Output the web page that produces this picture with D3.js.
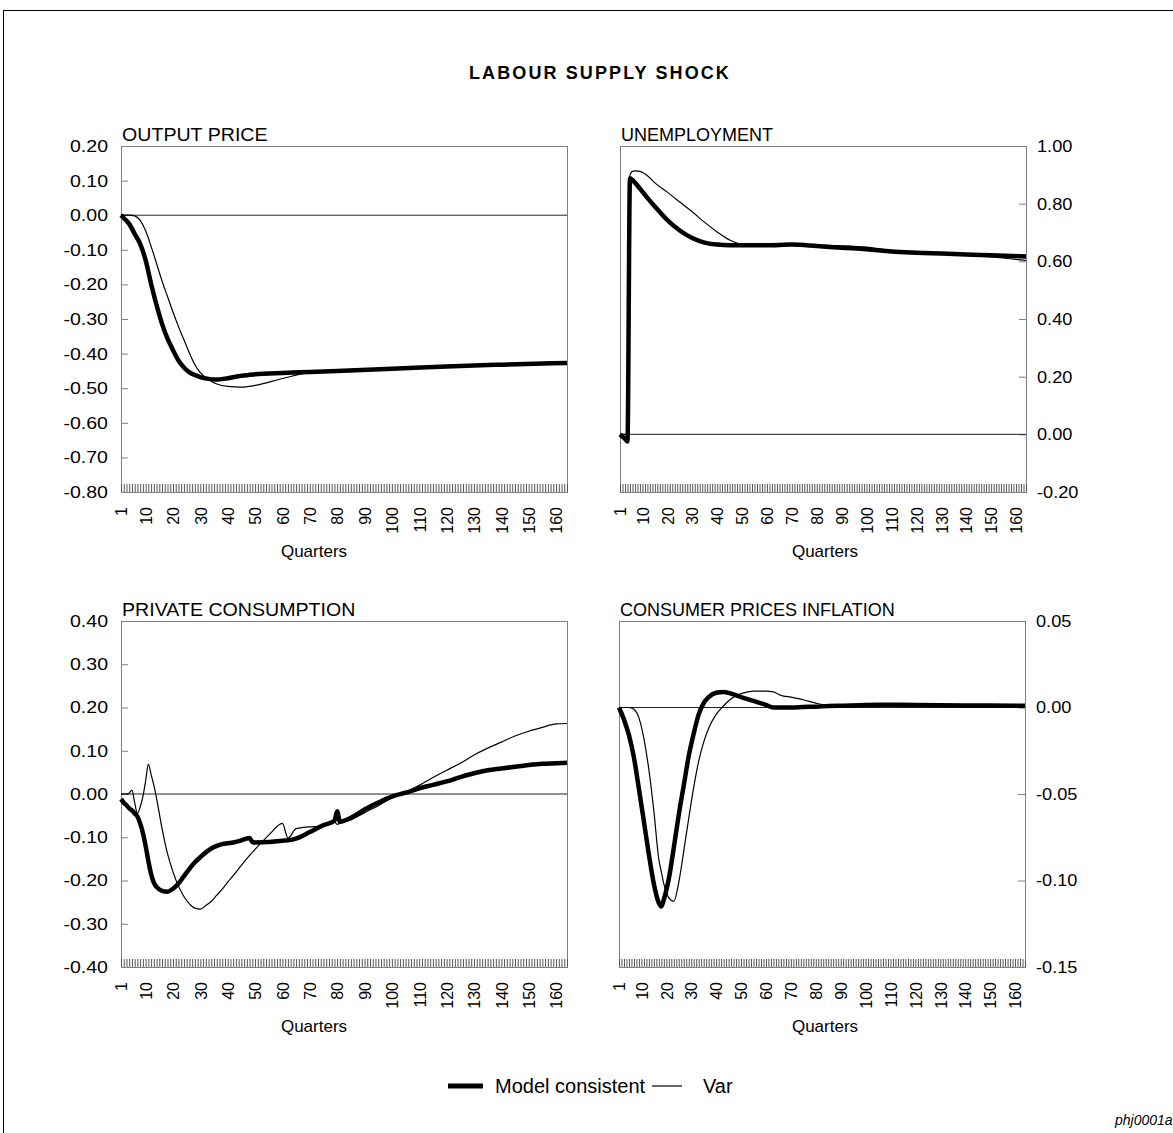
<!DOCTYPE html>
<html>
<head>
<meta charset="utf-8">
<script src="https://cdn.jsdelivr.net/npm/d3@7"></script>
<style>
  body { margin: 0; background: #fff; }
  svg { display: block; font-family: "Liberation Sans", Arial, sans-serif; }
</style>
</head>
<body>
<svg width="1173" height="1133"></svg>
<script>
// ---- data ----
const xLabels = [1, 10, 20, 30, 40, 50, 60, 70, 80, 90, 100, 110, 120, 130, 140, 150, 160];

// Output price
const priceQ = [1, 2, 4, 6, 8, 10, 12, 14, 16, 18, 20, 22, 24, 26, 28, 30, 33, 36, 40, 45, 50, 60, 70, 80, 100, 120, 140, 164];
const priceModel = [0, -0.008, -0.025, -0.054, -0.083, -0.13, -0.198, -0.26, -0.314, -0.357, -0.39, -0.42, -0.44, -0.454, -0.462, -0.468, -0.473, -0.475, -0.471, -0.464, -0.46, -0.456, -0.453, -0.45, -0.444, -0.437, -0.432, -0.427];
const priceVar = [0, 0, 0, -0.002, -0.015, -0.045, -0.09, -0.14, -0.19, -0.235, -0.28, -0.322, -0.36, -0.398, -0.432, -0.455, -0.475, -0.488, -0.495, -0.497, -0.492, -0.472, -0.455, -0.451, -0.444, -0.437, -0.432, -0.427];

// Unemployment
const unempQ = [1, 2, 3, 4, 5, 6, 7, 9, 12, 15, 20, 25, 30, 35, 40, 45, 50, 60, 70, 80, 90, 100, 110, 120, 130, 140, 150, 164];
const unempModel = [0, -0.008, -0.016, -0.025, 0.888, 0.882, 0.873, 0.852, 0.82, 0.79, 0.743, 0.707, 0.681, 0.665, 0.658, 0.656, 0.656, 0.656, 0.658, 0.653, 0.647, 0.642, 0.634, 0.63, 0.627, 0.624, 0.621, 0.617];
const unempVar = [0, 0, 0, 0, 0.9, 0.912, 0.914, 0.912, 0.897, 0.872, 0.84, 0.806, 0.772, 0.735, 0.702, 0.674, 0.659, 0.657, 0.659, 0.656, 0.654, 0.649, 0.637, 0.632, 0.627, 0.622, 0.615, 0.603];

// Private consumption
const consQ = [1, 2, 3, 4, 5, 6, 7, 8, 9, 10, 11, 12, 13, 14, 16, 18, 20, 22, 24, 26, 28, 30, 32, 34, 36, 38, 40, 42, 44, 46, 48, 49, 50, 55, 60, 62, 65, 70, 75, 79, 80, 81, 85, 90, 95, 100, 105, 110, 115, 120, 125, 130, 135, 140, 145, 150, 155, 160, 164];
const consModel = [-0.012, -0.02, -0.026, -0.033, -0.038, -0.045, -0.052, -0.068, -0.09, -0.12, -0.155, -0.185, -0.205, -0.215, -0.224, -0.226, -0.219, -0.207, -0.19, -0.173, -0.158, -0.146, -0.135, -0.126, -0.12, -0.116, -0.114, -0.112, -0.109, -0.105, -0.102, -0.111, -0.112, -0.111, -0.108, -0.107, -0.103, -0.088, -0.072, -0.062, -0.04, -0.064, -0.055, -0.036, -0.02, -0.006, 0.003, 0.013, 0.021, 0.029, 0.039, 0.048, 0.055, 0.059, 0.063, 0.067, 0.07, 0.071, 0.072];
const consVar = [0, 0, 0, 0.002, 0.009, -0.02, -0.045, -0.03, -0.006, 0.03, 0.069, 0.045, 0.02, -0.01, -0.08, -0.138, -0.18, -0.213, -0.237, -0.254, -0.264, -0.266, -0.258, -0.248, -0.234, -0.22, -0.204, -0.189, -0.173, -0.157, -0.142, -0.135, -0.128, -0.095, -0.068, -0.102, -0.08, -0.076, -0.075, -0.065, -0.07, -0.068, -0.06, -0.043, -0.027, -0.009, 0.004, 0.02, 0.038, 0.055, 0.071, 0.09, 0.106, 0.12, 0.134, 0.145, 0.154, 0.162, 0.163];

// Consumer prices inflation
const inflQ = [1, 3, 5, 7, 9, 11, 13, 15, 17, 18, 19, 21, 23, 25, 27, 29, 31, 33, 35, 37, 40, 43, 46, 50, 55, 60, 63, 66, 70, 75, 80, 85, 90, 100, 110, 120, 140, 164];
const inflModel = [0, -0.007, -0.016, -0.029, -0.047, -0.066, -0.085, -0.102, -0.113, -0.115, -0.111, -0.099, -0.081, -0.062, -0.045, -0.028, -0.015, -0.004, 0.0025, 0.006, 0.0085, 0.009, 0.008, 0.006, 0.0038, 0.0015, 0, 0, 0, 0.0003, 0.0005, 0.0008, 0.001, 0.0015, 0.0016, 0.0015, 0.0012, 0.001];
const inflVar = [0, 0, 0, -0.001, -0.006, -0.018, -0.036, -0.06, -0.088, -0.095, -0.102, -0.11, -0.112, -0.101, -0.083, -0.064, -0.046, -0.031, -0.02, -0.012, -0.004, 0.001, 0.005, 0.008, 0.0095, 0.0095, 0.009, 0.007, 0.006, 0.0045, 0.0025, 0.0012, 0.001, 0.0015, 0.0016, 0.0015, 0.0012, 0.001];

const seriesNames = ["Model consistent", "Var"];

// ---- layout ----
const svg = d3.select("svg");
const fmt = d3.formatLocale({ decimal: ".", thousands: ",", grouping: [3], currency: ["", ""], minus: "-" }).format(".2f");

svg.append("rect")
    .attr("x", 3.5).attr("y", 10.5)
    .attr("width", 1200).attr("height", 1200)
    .attr("fill", "none").attr("stroke", "#000");

svg.append("text")
    .attr("x", 600).attr("y", 79)
    .attr("text-anchor", "middle")
    .attr("font-size", 18).attr("font-weight", "bold")
    .attr("letter-spacing", 2.1)
    .text("LABOUR SUPPLY SHOCK");

const panels = [
    { title: "OUTPUT PRICE", left: 121, right: 567, top: 146, bottom: 492, side: "left",
      yDomain: [-0.8, 0.2], yTicks: d3.range(-8, 3).map(d => d / 10), qx: 314,
      q: priceQ, model: priceModel, alt: priceVar },
    { title: "UNEMPLOYMENT", left: 620, right: 1026, top: 146, bottom: 492, side: "right",
      yDomain: [-0.2, 1.0], yTicks: d3.range(-1, 6).map(d => d / 5), qx: 825,
      q: unempQ, model: unempModel, alt: unempVar },
    { title: "PRIVATE CONSUMPTION", left: 121, right: 567, top: 621, bottom: 967, side: "left",
      yDomain: [-0.4, 0.4], yTicks: d3.range(-4, 5).map(d => d / 10), qx: 314,
      q: consQ, model: consModel, alt: consVar },
    { title: "CONSUMER PRICES INFLATION", left: 619, right: 1025, top: 621, bottom: 967, side: "right",
      yDomain: [-0.15, 0.05], yTicks: d3.range(-3, 2).map(d => d / 20), qx: 825,
      q: inflQ, model: inflModel, alt: inflVar }
];

function drawPanel(p) {
    const x = d3.scaleLinear().domain([1, 164]).range([p.left, p.right]);
    const y = d3.scaleLinear().domain(p.yDomain).range([p.bottom, p.top]);
    const g = svg.append("g");
    const isLeft = p.side === "left";

    // frame
    g.append("rect")
        .attr("x", p.left + 0.5).attr("y", p.top + 0.5)
        .attr("width", p.right - p.left).attr("height", p.bottom - p.top)
        .attr("fill", "none").attr("stroke", "#808080");

    // one small tick per quarter, pointing into the plot
    g.append("g")
        .attr("transform", `translate(0,${p.bottom})`)
        .call(d3.axisBottom(x).tickValues(d3.range(1, 165)).tickSizeInner(-8).tickSizeOuter(0).tickFormat(""))
        .call(s => s.select(".domain").remove())
        .selectAll("line").attr("stroke", "#555");

    // rotated quarter labels
    const xa = g.append("g")
        .attr("transform", `translate(0,${p.bottom})`)
        .call(d3.axisBottom(x).tickValues(xLabels).tickSize(0).tickFormat(d => d));
    xa.select(".domain").remove();
    xa.attr("font-size", 16).attr("font-family", null);
    xa.selectAll("text")
        .attr("x", null).attr("y", null)
        .attr("dy", "0.36em")
        .attr("text-anchor", "end")
        .attr("transform", "translate(0,15) rotate(-90)");

    // value axis, ticks inside the frame
    const yAxis = (isLeft ? d3.axisLeft(y) : d3.axisRight(y))
        .tickValues(p.yTicks).tickSizeInner(-7).tickSizeOuter(0).tickFormat(fmt);
    const ya = g.append("g")
        .attr("transform", `translate(${isLeft ? p.left : p.right},0)`)
        .call(yAxis);
    ya.select(".domain").remove();
    ya.attr("font-size", 17).attr("font-family", null);
    ya.selectAll("line").attr("stroke", "#808080");
    ya.selectAll("text")
        .attr("x", null)
        .attr("transform", isLeft ? "translate(-13,0) scale(1.15,1)" : "translate(11,0) scale(1.07,1)");

    // zero line
    g.append("line")
        .attr("x1", p.left).attr("x2", p.right)
        .attr("y1", y(0)).attr("y2", y(0))
        .attr("stroke", "#222").attr("stroke-width", 1);

    // series
    const line = d3.line()
        .x(d => x(d[0]))
        .y(d => y(d[1]))
        .curve(d3.curveMonotoneX);

    g.append("path")
        .datum(d3.zip(p.q, p.alt))
        .attr("d", line)
        .attr("fill", "none").attr("stroke", "#000").attr("stroke-width", 1.2)
        .attr("stroke-linejoin", "round");

    g.append("path")
        .datum(d3.zip(p.q, p.model))
        .attr("d", line)
        .attr("fill", "none").attr("stroke", "#000").attr("stroke-width", 4.5)
        .attr("stroke-linejoin", "round");

    // panel title
    g.append("text")
        .attr("transform", `translate(${p.left + 1},${p.top - 5})` + (isLeft ? " scale(1.09,1)" : ""))
        .attr("font-size", 18)
        .text(p.title);

    // axis title
    g.append("text")
        .attr("x", p.qx).attr("y", p.bottom + 65)
        .attr("text-anchor", "middle")
        .attr("font-size", 17)
        .text("Quarters");
}

panels.forEach(drawPanel);

// legend
const legend = svg.append("g").attr("font-size", 20);
legend.append("line")
    .attr("x1", 448).attr("x2", 483).attr("y1", 1086).attr("y2", 1086)
    .attr("stroke", "#000").attr("stroke-width", 5);
legend.append("text").attr("x", 495).attr("y", 1093).text(seriesNames[0]);
legend.append("line")
    .attr("x1", 652).attr("x2", 682).attr("y1", 1086).attr("y2", 1086)
    .attr("stroke", "#000").attr("stroke-width", 1.2);
legend.append("text").attr("x", 703).attr("y", 1093).text(seriesNames[1]);

svg.append("text")
    .attr("x", 1115).attr("y", 1125)
    .attr("font-size", 14).attr("font-style", "italic")
    .text("phj0001a");
</script>
</body>
</html>
